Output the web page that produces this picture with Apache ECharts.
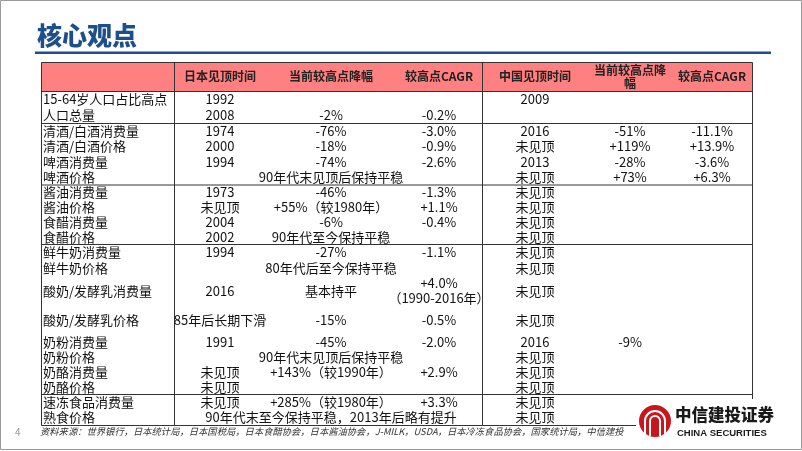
<!DOCTYPE html>
<html><head><meta charset="utf-8">
<script src="https://cdn.jsdelivr.net/npm/echarts@6/dist/echarts.min.js"></script>
<style>html,body{margin:0;padding:0;background:#fff}#c{width:802px;height:451px}</style>
</head><body><div id="c"></div>
<script>
// ---------- data ----------
const headers = ['', '日本见顶时间', '当前较高点降幅', '较高点CAGR', '中国见顶时间', '当前较高点降\n幅', '较高点CAGR'];
const items = ['15-64岁人口占比高点','人口总量','清酒/白酒消费量','清酒/白酒价格','啤酒消费量','啤酒价格',
  '酱油消费量','酱油价格','食醋消费量','食醋价格','鲜牛奶消费量','鲜牛奶价格','酸奶/发酵乳消费量','酸奶/发酵乳价格',
  '奶粉消费量','奶粉价格','奶酪消费量','奶酪价格','速冻食品消费量','熟食价格'];
const jpPeak = ['1992','2008','1974','2000','1994','','1973','未见顶','2004','2002','1994','','2016','85年后长期下滑',
  '1991','','未见顶','未见顶','未见顶',''];
const jpDrop = ['','-2%','-76%','-18%','-74%','90年代末见顶后保持平稳','-46%','+55%（较1980年）','-6%','90年代至今保持平稳',
  '-27%','80年代后至今保持平稳','基本持平','-15%','-45%','90年代末见顶后保持平稳','+143%（较1990年）','',
  '+285%（较1980年）','90年代末至今保持平稳，2013年后略有提升'];
const jpCagr = ['','-0.2%','-3.0%','-0.9%','-2.6%','','-1.3%','+1.1%','-0.4%','','-1.1%','','+4.0%\n（1990-2016年）',
  '-0.5%','-2.0%','','+2.9%','','+3.3%',''];
const cnPeak = ['2009','','2016','未见顶','2013','未见顶','未见顶','未见顶','未见顶','未见顶','未见顶','未见顶','未见顶',
  '未见顶','2016','未见顶','未见顶','未见顶','未见顶','未见顶'];
const cnDrop = ['','','-51%','+119%','-28%','+73%','','','','','','','','','-9%','','','','',''];
const cnCagr = ['','','-11.1%','+13.9%','-3.6%','+6.3%','','','','','','','','','','','','','',''];
const groupEnds = [1,5,9,17];
const source = '资料来源：世界银行，日本统计局，日本国税局，日本食醋协会，日本酱油协会，J-MILK，USDA，日本冷冻食品协会，国家统计局，中信建投';

// ---------- layout ----------
const FONT = '"Noto Sans CJK SC", sans-serif';
const colEdges = [0,133,225,355,441,547,631,711];
const headerH = 29;
const rowHeights = [16,16,15.5,15.5,15.5,15.5,14.75,14.75,14.75,14.75,16,16,30,28,16,14.5,15,14.5,15.5,15.5];
const rowTop = []; let acc = headerH;
rowHeights.forEach(h => { rowTop.push(acc); acc += h; });
const tableH = acc;
const tableW = colEdges[colEdges.length-1];
const columns = [items, jpPeak, jpDrop, jpCagr, cnPeak, cnDrop, cnCagr];
function cellX(c){ return c === 0 ? colEdges[0] + 2 : (colEdges[c] + colEdges[c+1]) / 2; }

const cells = [];
headers.forEach((t, c) => { if (t) cells.push({value:[cellX(c), headerH/2], text:t, col:c, head:true}); });
items.forEach((_, r) => {
  columns.forEach((arr, c) => {
    if (arr[r]) cells.push({value:[cellX(c), rowTop[r] + rowHeights[r]/2], text:arr[r], col:c, head:false});
  });
});

const rules = [];
rules.push({value:[0,0,tableW,0], color:'#333', w:1});
rules.push({value:[0,headerH,tableW,headerH], color:'#333', w:1});
groupEnds.forEach((r, i) => {
  const y = rowTop[r] + rowHeights[r];
  rules.push({value:[0,y,tableW,y], color: i===1 ? '#999' : '#333', w: i===1 ? 2 : 1});
});
rules.push({value:[0,tableH,tableW,tableH], color:'#333', w:1});
[0, 1, 4, 7].forEach(ci => {
  const x = colEdges[ci];
  rules.push({value:[x,0,x,tableH], color:'#333', w:1});
});

const chart = echarts.init(document.getElementById('c'), null, {renderer:'canvas'});
chart.setOption({
  animation:false,
  backgroundColor:'#fff',
  grid:{left:41, top:62, width:tableW, height:tableH},
  xAxis:{type:'value', min:0, max:tableW, show:false},
  yAxis:{type:'value', min:0, max:tableH, inverse:true, show:false},
  series:[
    {
      type:'custom', z:1, clip:false,
      data:[{value:[0,0,tableW,headerH]}],
      renderItem:(p, api) => {
        const a = api.coord([api.value(0), api.value(1)]);
        const b = api.coord([api.value(2), api.value(3)]);
        return {type:'rect', shape:{x:a[0], y:a[1], width:b[0]-a[0], height:b[1]-a[1]}, style:{fill:'#FF8080'}};
      }
    },
    {
      type:'custom', z:2, clip:false,
      data:rules,
      renderItem:(p, api) => {
        const it = rules[p.dataIndex];
        const a = api.coord([api.value(0), api.value(1)]);
        const b = api.coord([api.value(2), api.value(3)]);
        const off = it.w % 2 ? 0.5 : 0;
        return {type:'line', shape:{x1:Math.round(a[0])+off, y1:Math.round(a[1])+off, x2:Math.round(b[0])+off, y2:Math.round(b[1])+off},
          style:{stroke:it.color, lineWidth:it.w}};
      }
    },
    {
      type:'custom', z:3, clip:false,
      data:cells,
      renderItem:(p, api) => {
        const it = cells[p.dataIndex];
        const pt = api.coord([api.value(0), api.value(1)]);
        return {type:'text', x:pt[0], y:pt[1], style:{
          text:it.text, align: it.col===0 ? 'left' : 'center', verticalAlign:'middle',
          font: (it.head ? 'bold 12px ' : '13px ') + FONT, fill: it.head ? '#222' : '#111',
          lineHeight: it.head ? 13 : 15
        }};
      }
    }
  ],
  graphic:[
    {type:'rect', z:0, shape:{x:0.5, y:0.5, width:801, height:449}, style:{fill:null, stroke:'#9a9a9a', lineWidth:1}},
    {type:'text', left:37, top:23, style:{text:'核心观点', font:'900 25px ' + FONT, fill:'#1D4F8A', letterSpacing:2}},
    {type:'rect', shape:{x:35, y:51.5, width:736, height:2.5}, style:{fill:'#1D4F8A'}},
    {type:'text', left:15, top:427, style:{text:'4', font:'10px ' + FONT, fill:'#999'}},
    {type:'text', left:40, top:427, style:{text:source, font:'italic 9.3px ' + FONT, fill:'#333'}},
    {type:'rect', z:100, shape:{x:636, y:399, width:146, height:44}, style:{fill:'#fff'}},
    {type:'circle', z:101, shape:{cx:655, cy:421, r:16}, style:{fill:'#C8161D'}},
    {type:'arc', z:102, shape:{cx:655, cy:421, r:10, startAngle:Math.PI, endAngle:2*Math.PI}, style:{stroke:'#fff', lineWidth:2, fill:null}},
    {type:'arc', z:102, shape:{cx:655, cy:421, r:5, startAngle:Math.PI, endAngle:2*Math.PI}, style:{stroke:'#fff', lineWidth:2, fill:null}},
    {type:'line', z:102, shape:{x1:645, y1:421, x2:645, y2:435}, style:{stroke:'#fff', lineWidth:2}},
    {type:'line', z:102, shape:{x1:650, y1:421, x2:650, y2:436}, style:{stroke:'#fff', lineWidth:2}},
    {type:'line', z:102, shape:{x1:660, y1:421, x2:660, y2:436}, style:{stroke:'#fff', lineWidth:2}},
    {type:'line', z:102, shape:{x1:665, y1:421, x2:665, y2:435}, style:{stroke:'#fff', lineWidth:2}},
    {type:'text', z:102, left:675, top:406, style:{text:'中信建投证券', font:'900 16.5px ' + FONT, fill:'#1a1a1a'}},
    {type:'text', z:102, left:677, top:428, style:{text:'CHINA SECURITIES', font:'bold 9.5px "Liberation Sans", sans-serif', fill:'#1a1a1a'}}
  ]
});
</script>
</body></html>
